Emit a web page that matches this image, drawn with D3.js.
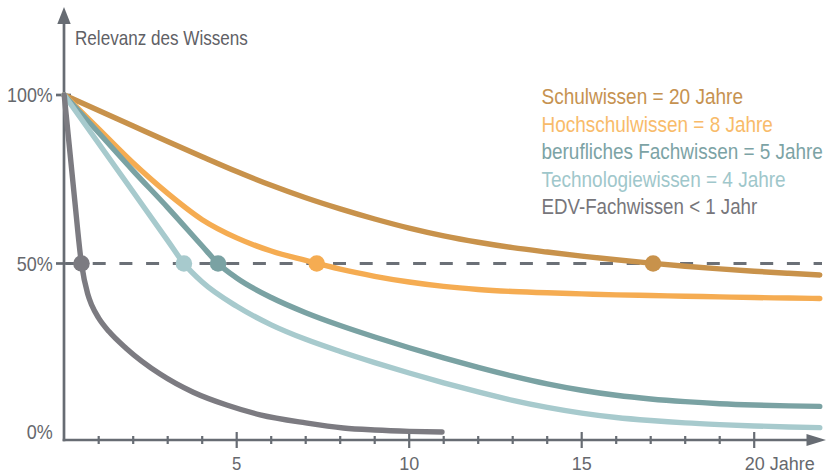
<!DOCTYPE html>
<html>
<head>
<meta charset="utf-8">
<script src="https://cdn.jsdelivr.net/npm/d3@7/dist/d3.min.js"></script>
<style>
  body { margin: 0; background: #fff; }
  svg text { font-family: "Liberation Sans", Arial, sans-serif; }
</style>
</head>
<body>
<svg id="chart" width="830" height="474"></svg>
<script>
// values (percent of relevance per year)
var years = [0,1,2,3,4,5,6,7,8,9,10,11,12,13,14,15,16,17,18,19,20,21,21.9];
var schulwissen = [100,95.4,90.8,86.2,81.7,77.3,73.2,69.5,66.2,63.2,60.5,58.2,56.3,54.7,53.4,52.2,51.1,50.1,49.2,48.4,47.7,47.1,46.6];
var hochschulwissen = [100,89.9,79.8,70.8,63,57.6,53.7,50.9,48.3,46.2,44.5,43.2,42.3,41.7,41.3,41,40.7,40.5,40.3,40.1,39.9,39.75,39.6];

var fachYears = [0,1,2,3,4,4.46,5,6,7,8,9,10,11,12,13,14,15,16,17,18,19,20,21,21.9];
var fachwissen = [100,88.8,77.5,66.6,55.2,50,45.7,39.9,35.4,31.6,28.2,25,22,19.2,16.6,14.3,12.4,10.9,9.8,9,8.4,8,7.75,7.6];

var techYears = [0,1,2,3,3.47,4,5,6,7,8,9,10,11,12,13,14,15,16,17,18,19,20,21,21.9];
var technologiewissen = [100,85.6,71.2,56.8,50,44.5,37.3,31.8,27.5,23.9,20.6,17.5,14.6,11.9,9.4,7.3,5.6,4.3,3.4,2.7,2.2,1.8,1.5,1.3];

var edvYears = [0,0.29,0.5,0.68,0.8,1,1.3,1.8,2.78,3.74,4.71,5.68,7,8.09,9,10,10.95];
var edvwissen = [100,70.3,50,41,37.6,33.8,29.8,24.8,17.2,11.8,8,5.1,2.7,1.2,0.6,0.2,0];

// year where each curve crosses 50%
var halfPoints = [17.07, 7.32, 4.46, 3.47, 0.5];

var legendLabels = ["Schulwissen = 20 Jahre", "Hochschulwissen = 8 Jahre", "berufliches Fachwissen = 5 Jahre", "Technologiewissen = 4 Jahre", "EDV-Fachwissen < 1 Jahr"];
var lineColors = ["#c8924b", "#f5ac52", "#7aa2a3", "#a7cacd", "#7c7b81"];
var textColors = ["#c69250", "#f8bb6a", "#7ca3a5", "#9fc7cb", "#77767b"];

var yTicks = [100, 50, 0];
var yTickLabels = ["100%", "50%", "0%"];
var xMajor = [5, 10, 15, 20];
var xMajorLabels = ["5", "10", "15", "20 Jahre"];

// the original font is a narrow grotesk: squeeze text to the widths seen
var legendWidths = [201.6, 231.6, 281.5, 244.3, 216];
var yLabelWidths = [45.7, 36, 26];
var xLabelWidths = [9.3, 20, 20, 70];

var svg = d3.select("#chart");
var axisCol = "#676c73";
var labelCol = "#66686d";

var x = d3.scaleLinear().domain([0, 20]).range([64.2, 754.2]);
var y = d3.scaleLinear().domain([0, 100]).range([432, 95]);
var axisY = 440;

var series = [
  {vals: schulwissen, xs: years},
  {vals: hochschulwissen, xs: years},
  {vals: fachwissen, xs: fachYears},
  {vals: technologiewissen, xs: techYears},
  {vals: edvwissen, xs: edvYears}
];

// squeeze a text horizontally round its anchor point
function squeeze(sel, px, py, w) {
  var natural = sel.node().getComputedTextLength();
  var k = w / natural;
  sel.attr("transform", "translate(" + px + "," + py + ") scale(" + k + ",1)");
}

// dashed 50% line
svg.append("line")
  .attr("x1", 66).attr("x2", 822)
  .attr("y1", y(50)).attr("y2", y(50))
  .attr("stroke", "#6b7077").attr("stroke-width", 3)
  .attr("stroke-dasharray", "13,13.7");

// axes with arrow heads
svg.append("line")
  .attr("x1", 64).attr("x2", 64).attr("y1", axisY + 1.3).attr("y2", 20)
  .attr("stroke", axisCol).attr("stroke-width", 2.7);
svg.append("path")
  .attr("d", "M64,7 L57.3,24 L70.7,24 Z")
  .attr("fill", axisCol);
svg.append("line")
  .attr("x1", 62.7).attr("x2", 810).attr("y1", axisY).attr("y2", axisY)
  .attr("stroke", axisCol).attr("stroke-width", 2.7);
svg.append("path")
  .attr("d", "M826," + axisY + " L806.5," + (axisY - 6) + " L806.5," + (axisY + 6) + " Z")
  .attr("fill", axisCol);

// x ticks
var minor = d3.range(1, 20).filter(function(d) { return d % 5 !== 0; });
svg.selectAll(".minor").data(minor).enter().append("line")
  .attr("class", "minor")
  .attr("x1", function(d) { return x(d); }).attr("x2", function(d) { return x(d); })
  .attr("y1", axisY - 4).attr("y2", axisY + 4)
  .attr("stroke", axisCol).attr("stroke-width", 2.2);
svg.selectAll(".major").data(xMajor).enter().append("line")
  .attr("class", "major")
  .attr("x1", function(d) { return x(d); }).attr("x2", function(d) { return x(d); })
  .attr("y1", axisY - 8).attr("y2", axisY + 8)
  .attr("stroke", axisCol).attr("stroke-width", 2.2);
svg.selectAll(".xlab").data(xMajor).enter().append("text")
  .attr("class", "xlab")
  .attr("text-anchor", function(d, i) { return i === 3 ? "start" : "middle"; })
  .attr("fill", labelCol)
  .style("font-size", "19px")
  .text(function(d, i) { return xMajorLabels[i]; })
  .each(function(d, i) {
    squeeze(d3.select(this), i === 3 ? x(d) - 9.5 : x(d), 470, xLabelWidths[i]);
  });

// y ticks
svg.selectAll(".ytick").data(yTicks.slice(0, 2)).enter().append("line")
  .attr("class", "ytick")
  .attr("x1", 56).attr("x2", 71)
  .attr("y1", function(d) { return y(d); }).attr("y2", function(d) { return y(d); })
  .attr("stroke", axisCol).attr("stroke-width", 2.7);
svg.selectAll(".ylab").data(yTicks).enter().append("text")
  .attr("class", "ylab")
  .attr("text-anchor", "end")
  .attr("fill", labelCol)
  .style("font-size", "20px")
  .text(function(d, i) { return yTickLabels[i]; })
  .each(function(d, i) {
    squeeze(d3.select(this), 52.7, y(d) + 7.2, yLabelWidths[i]);
  });

svg.append("text")
  .attr("fill", "#5f6166")
  .style("font-size", "21px")
  .text("Relevanz des Wissens")
  .call(squeeze, 75, 45, 173);

// curves
var line = d3.line().curve(d3.curveMonotoneX);
svg.selectAll(".curve").data(series).enter().append("path")
  .attr("class", "curve")
  .attr("d", function(s) {
    return line(s.vals.map(function(v, i) { return [x(s.xs[i]), y(v)]; }));
  })
  .attr("fill", "none")
  .attr("stroke", function(s, i) { return lineColors[i]; })
  .attr("stroke-width", 5.4)
  .attr("stroke-linecap", "round")
  .attr("stroke-linejoin", "round");

// half-life dots
svg.selectAll(".dot").data(halfPoints).enter().append("circle")
  .attr("class", "dot")
  .attr("cx", function(d) { return x(d); })
  .attr("cy", y(50))
  .attr("r", 8.3)
  .attr("fill", function(d, i) { return lineColors[i]; });

// legend
svg.selectAll(".leg").data(legendLabels).enter().append("text")
  .attr("class", "leg")
  .attr("fill", function(d, i) { return textColors[i]; })
  .style("font-size", "22px")
  .text(function(d) { return d; })
  .each(function(d, i) {
    squeeze(d3.select(this), 541.5, 104 + i * 27.5, legendWidths[i]);
  });
</script>
</body>
</html>
